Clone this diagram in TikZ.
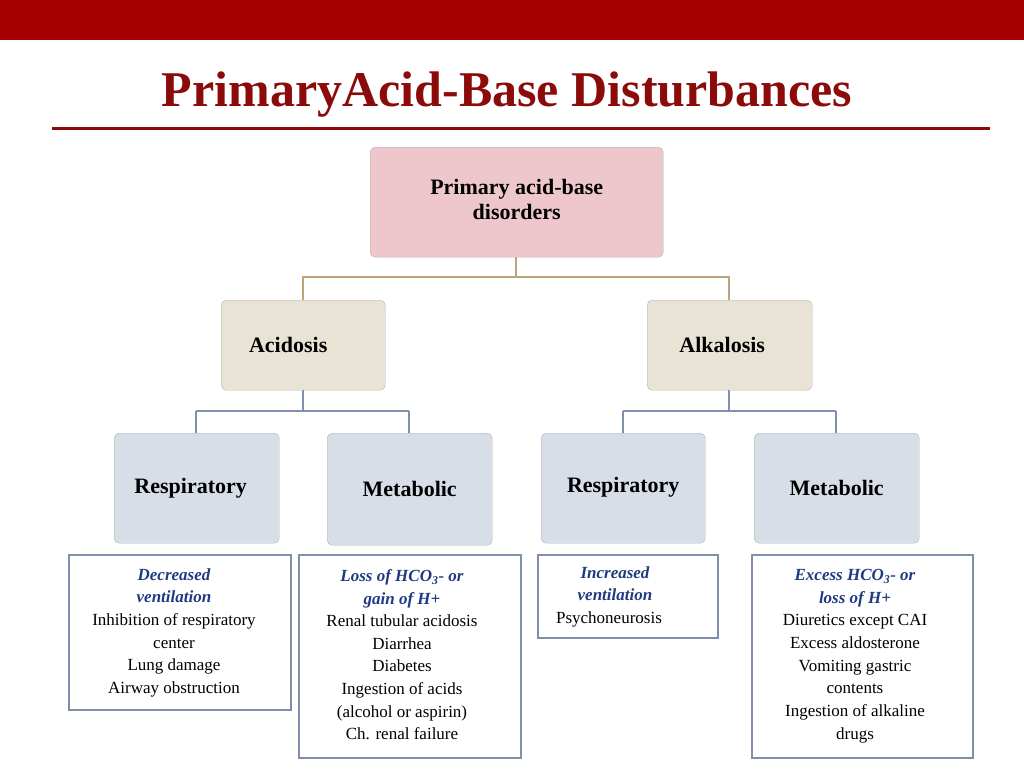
\documentclass[tikz,border=0pt]{standalone}
\usepackage{fontspec}
\setmainfont{Liberation Serif}
\definecolor{dred}{HTML}{A50000}
\definecolor{tred}{HTML}{8B0A0A}
\definecolor{pinkf}{HTML}{EEC7CC}
\definecolor{beigef}{HTML}{E9E3D5}
\definecolor{bluef}{HTML}{D8DEE8}
\definecolor{lineb}{HTML}{8090AC}
\definecolor{gold}{HTML}{BBA47C}
\definecolor{itb}{HTML}{1F3A80}
\begin{document}
\begin{tikzpicture}[x=1pt,y=-1pt,
 rbox/.style={draw=gray!60,rounded corners=5pt,minimum width=#1,anchor=north west,font=\fontsize{22}{25}\selectfont\bfseries,inner sep=0pt},
 tbox/.style={draw=lineb,line width=2pt,anchor=north west,inner sep=0pt},
 lst/.style={align=center,font=\fontsize{17}{22.6}\selectfont,anchor=north}]
\useasboundingbox (0,0) rectangle (1024,768);
\fill[dred] (0,0) rectangle (1024,40);
\node[text=tred,font=\fontsize{50}{55}\selectfont\bfseries] (title) at (507,95) {PrimaryAcid-Base Disturbances};
\draw[tred,line width=3pt] (52,128) -- (990,128);
% nodes
\node[rbox=293pt,minimum height=110pt,fill=pinkf,align=center] (top) at (370,147) {\raisebox{12pt}{\begin{tabular}{@{}c@{}}Primary acid-base\\disorders\end{tabular}}};
\node[rbox=164pt,minimum height=90pt,fill=beigef] (aci) at (221,300) {\hspace*{-30pt}Acidosis};
\node[rbox=165pt,minimum height=90pt,fill=beigef] (alk) at (647,300) {\hspace*{-15pt}Alkalosis};
\node[rbox=165pt,minimum height=110pt,fill=bluef] (r1) at (114,433) {\hspace*{-12pt}Respiratory};
\node[rbox=165pt,minimum height=112pt,fill=bluef] (m1) at (327,433) {\raisebox{-6pt}{Metabolic}};
\node[rbox=164pt,minimum height=110pt,fill=bluef] (r2) at (541,433) {\raisebox{6pt}{Respiratory}};
\node[rbox=165pt,minimum height=110pt,fill=bluef] (m2) at (754,433) {\raisebox{-4pt}{Metabolic}};
% connectors
\coordinate (j0) at (516,277);
\draw[gold,line width=2pt] (516,257) -- (j0) -- (303,277) -- (303,300) (j0) -- (729,277) -- (729,300);
\coordinate (j1) at (303,411);
\coordinate (j2) at (729,411);
\draw[lineb,line width=2pt] (303,390) -- (j1) (196,411) -- (409,411) (196,411) -- (196,433) (409,411) -- (409,433);
\draw[lineb,line width=2pt] (729,390) -- (j2) (623,411) -- (836,411) (623,411) -- (623,433) (836,411) -- (836,433);
% text boxes
\node[tbox,minimum width=222pt,minimum height=155pt] (b1) at (68,554) {};
\node[tbox,minimum width=222pt,minimum height=203pt] (b2) at (298,554) {};
\node[tbox,minimum width=180pt,minimum height=83pt] (b3) at (537,554) {};
\node[tbox,minimum width=221pt,minimum height=203pt] (b4) at (751,554) {};
\node[lst] (t1) at (174,565) {\textcolor{itb}{\itshape\bfseries Decreased}\\\textcolor{itb}{\itshape\bfseries ventilation}\\Inhibition of respiratory\\center\\Lung damage\\Airway obstruction};
\node[lst] (t2) at (402,566) {\textcolor{itb}{\itshape\bfseries Loss of HCO\textsubscript{3}- or}\\\textcolor{itb}{\itshape\bfseries gain of H+}\\Renal tubular acidosis\\Diarrhea\\Diabetes\\Ingestion of acids\\(alcohol or aspirin)\\Ch. renal failure};
\node[lst] (t3) at (615,563) {\textcolor{itb}{\itshape\bfseries Increased}\\\textcolor{itb}{\itshape\bfseries ventilation}\\\hspace*{-12pt}Psychoneurosis};
\node[lst] (t4) at (855,566) {\textcolor{itb}{\itshape\bfseries Excess HCO\textsubscript{3}- or}\\\textcolor{itb}{\itshape\bfseries loss of H+}\\Diuretics except CAI\\Excess aldosterone\\Vomiting gastric\\contents\\Ingestion of alkaline\\drugs};
\end{tikzpicture}
\end{document}
